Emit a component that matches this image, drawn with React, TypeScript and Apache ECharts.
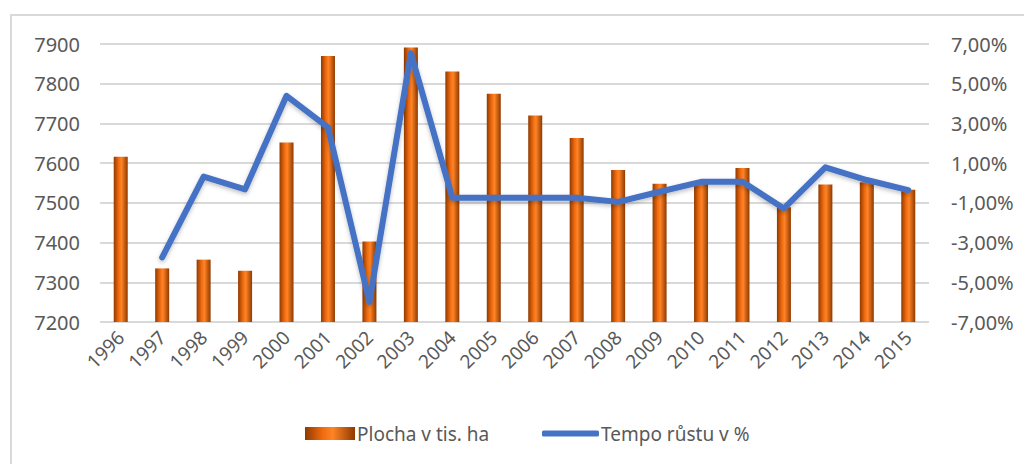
import React, { useEffect, useRef } from "react";
import * as echarts from "echarts";

const years = ["1996","1997","1998","1999","2000","2001","2002","2003","2004","2005","2006","2007","2008","2009","2010","2011","2012","2013","2014","2015"];
const plocha = [7616, 7335, 7357, 7329, 7652, 7870, 7403, 7891, 7831, 7775, 7720, 7663, 7583, 7548, 7550, 7588, 7489, 7546, 7552, 7533];
const tempo: (number | string)[] = ["-", -3.75, 0.32, -0.32, 4.39, 2.8, -5.99, 6.54, -0.74, -0.74, -0.74, -0.74, -0.95, -0.44, 0.06, 0.06, -1.28, 0.79, 0.15, -0.36];
const leftTicks = { min: 7200, max: 7900, interval: 100 };
const rightTicks = { min: -7, max: 7, interval: 2 };

const FONT = "Noto Sans";
const TXT = "#595959";
const GRID = "#d9d9d9";

export default function App() {
  const ref = useRef<HTMLDivElement>(null);
  useEffect(() => {
    if (!ref.current) return;
    const chart = echarts.init(ref.current, undefined, { renderer: "svg" });
    const barColor = new echarts.graphic.LinearGradient(0, 0, 1, 0, [
      { offset: 0, color: "#8f3a00" },
      { offset: 0.35, color: "#f06a10" },
      { offset: 0.55, color: "#ff8426" },
      { offset: 1, color: "#8f3a00" },
    ]);
    chart.setOption({
      animation: false,
      textStyle: { fontFamily: FONT },
      graphic: [
        {
          type: "rect",
          shape: { x: 11, y: 15, width: 1100, height: 500 },
          style: { fill: "none", stroke: GRID, lineWidth: 2 },
          silent: true,
        },
      ],
      grid: { left: 100, right: 95, top: 44, bottom: 142 },
      legend: [
        {
          data: ["Plocha v tis. ha"],
          left: 300,
          top: 419,
          itemWidth: 50,
          itemHeight: 13,
          itemGap: 3,
          icon: "rect",
          textStyle: { color: TXT, fontSize: 19, fontFamily: FONT, padding: [0, 0, 0, -3] },
        },
        {
          data: ["Tempo růstu v %"],
          left: 537,
          top: 419,
          itemWidth: 57,
          itemHeight: 6,
          icon: "roundRect",
          itemStyle: { color: "#4472C4" },
          textStyle: { color: TXT, fontSize: 19, fontFamily: FONT, padding: [0, 0, 0, -3] },
        },
      ],
      xAxis: {
        type: "category",
        data: years,
        axisLine: { show: false },
        axisTick: { show: false },
        axisLabel: { rotate: 45, color: TXT, fontSize: 19, margin: 12, fontFamily: FONT },
      },
      yAxis: [
        {
          type: "value",
          min: leftTicks.min,
          max: leftTicks.max,
          interval: leftTicks.interval,
          axisLine: { show: false },
          axisTick: { show: false },
          splitLine: { lineStyle: { color: GRID, width: 2 } },
          axisLabel: {
            color: TXT,
            fontSize: 20,
            margin: 20,
            fontFamily: FONT,
            formatter: (v: number) => String(v),
          },
        },
        {
          type: "value",
          min: rightTicks.min,
          max: rightTicks.max,
          interval: rightTicks.interval,
          axisLine: { show: false },
          axisTick: { show: false },
          splitLine: { show: false },
          axisLabel: {
            color: TXT,
            fontSize: 20,
            margin: 22,
            fontFamily: FONT,
            formatter: (v: number) => v.toFixed(2).replace(".", ",") + "%",
          },
        },
      ],
      series: [
        {
          name: "Plocha v tis. ha",
          type: "bar",
          data: plocha,
          barWidth: 14,
          itemStyle: { color: barColor },
        },
        {
          name: "Tempo růstu v %",
          type: "line",
          yAxisIndex: 1,
          data: tempo,
          showSymbol: false,
          symbol: "none",
          lineStyle: {
            color: "#4472C4",
            width: 6,
            cap: "round",
            join: "round",
            shadowColor: "rgba(0,0,0,0.25)",
            shadowBlur: 4,
            shadowOffsetY: 2,
          },
          itemStyle: { color: "#4472C4" },
        },
      ],
    });
    return () => chart.dispose();
  }, []);
  return (
    <div
      ref={ref}
      style={{ position: "fixed", left: 0, top: 0, width: 1024, height: 464, background: "#fff" }}
    />
  );
}
